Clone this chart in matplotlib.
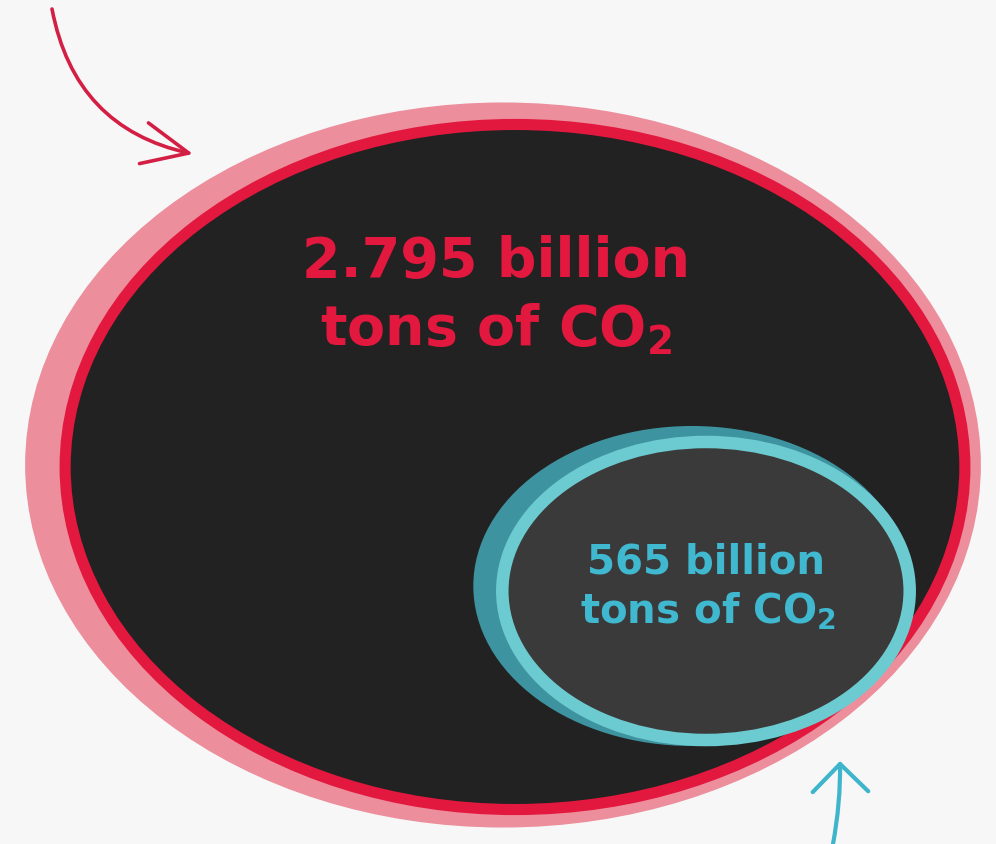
import numpy as np
import matplotlib.pyplot as plt
from matplotlib.patches import Ellipse, FancyArrowPatch

# values shown in the two bubbles (billion tons of CO2)
labels = ['2.795 billion', '565 billion']
values = [2795, 565]
text_colors = ['#e2183e', '#3fb8d0']

# area of the bubbles is proportional to the value
px_per_unit = 214.9
aspects = [1.318, 1.367]
widths = [np.sqrt(v * px_per_unit * a) for v, a in zip(values, aspects)]
heights = [w / a for w, a in zip(widths, aspects)]

fig = plt.figure(figsize=(9.96, 8.45), dpi=100)
fig.patch.set_facecolor('#f7f7f7')
ax = fig.add_axes([0, 0, 1, 1])
ax.set_xlim(0, 996)
ax.set_ylim(845, 0)
ax.axis('off')

# big bubble
cx, cy = 515, 468
ax.add_patch(Ellipse((cx - 12, cy - 2), widths[0] + 66, heights[0] + 50,
                     facecolor='#ec8e9c', edgecolor='none'))
ax.add_patch(Ellipse((cx, cy), widths[0] + 10, heights[0] + 10,
                     facecolor='#222222', edgecolor='#e2183e', linewidth=8))

# small bubble
sx, sy = 706, 592
ax.add_patch(Ellipse((sx - 14, sy - 5), widths[1] + 30, heights[1] + 22,
                     facecolor='#3d939f', edgecolor='none'))
ax.add_patch(Ellipse((sx, sy), widths[1], heights[1],
                     facecolor='#3a3a3a', edgecolor='#6ccbd0', linewidth=9))

# texts
ax.text(496, 261, labels[0], color=text_colors[0], fontsize=40,
        fontweight='bold', ha='center', va='center')
ax.text(496, 330, r'tons of CO$_{\mathbf{2}}$', color=text_colors[0],
        fontsize=40, fontweight='bold', ha='center', va='center')
ax.text(706, 563, labels[1], color=text_colors[1], fontsize=29,
        fontweight='bold', ha='center', va='center')
ax.text(708, 612, r'tons of CO$_{\mathbf{2}}$', color=text_colors[1],
        fontsize=29, fontweight='bold', ha='center', va='center')

# arrows
ax.add_patch(FancyArrowPatch((52, 10), (193, 155),
                             connectionstyle='arc3,rad=0.33',
                             arrowstyle='->,head_length=11,head_width=5',
                             color='#d41f45', linewidth=2.6,
                             mutation_scale=3, shrinkA=0, shrinkB=0))
ax.add_patch(FancyArrowPatch((833, 845), (840, 762),
                             connectionstyle='arc3,rad=0.05',
                             arrowstyle='->,head_length=5,head_width=5',
                             color='#3fb5cc', linewidth=3,
                             mutation_scale=4, shrinkA=0, shrinkB=0))

fig.savefig('out.png', dpi=100, facecolor=fig.get_facecolor())
